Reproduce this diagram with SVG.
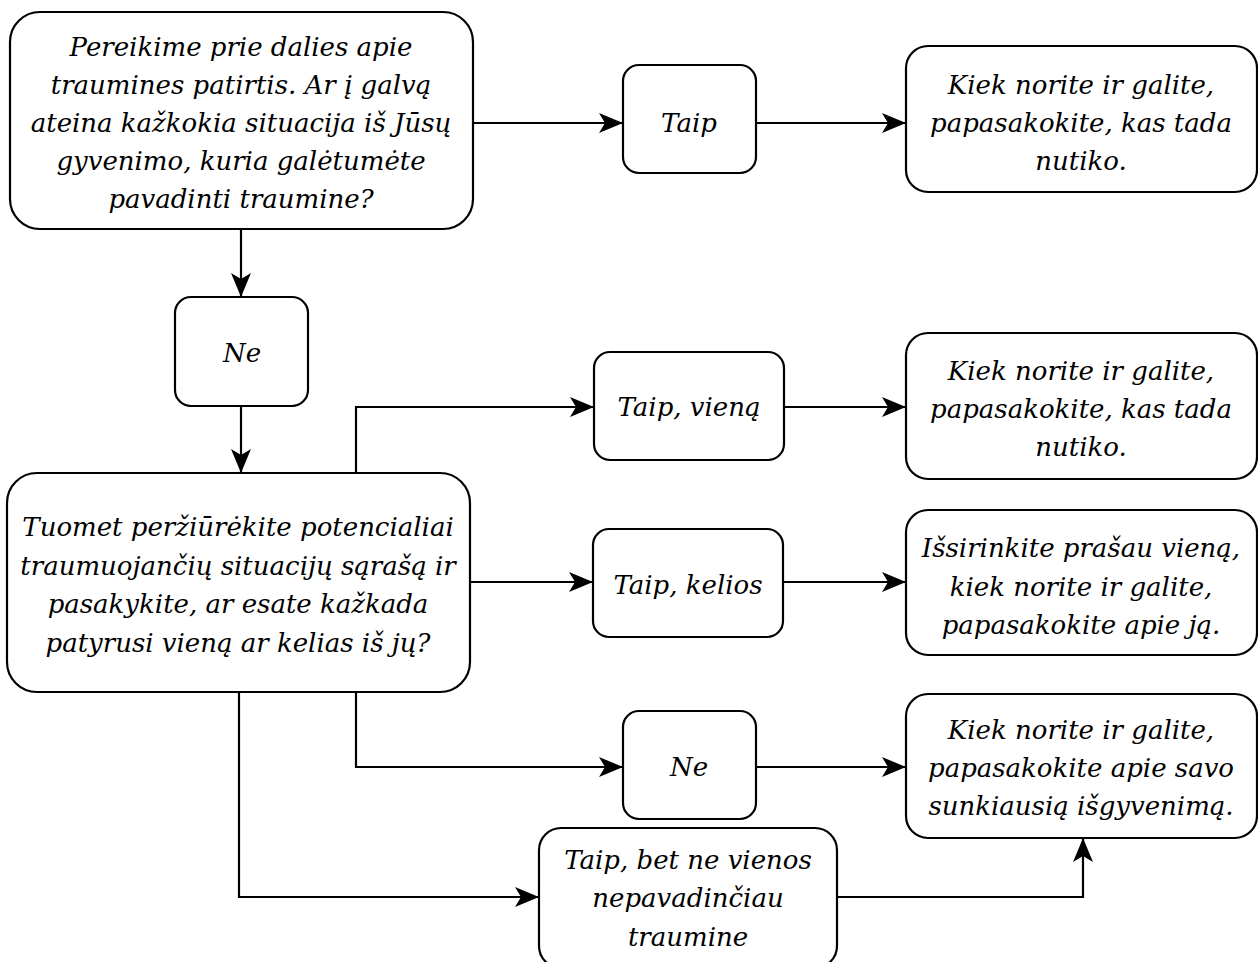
<svg xmlns="http://www.w3.org/2000/svg" width="1258" height="962" viewBox="0 0 1258 962">
<style>
.n{fill:#fff;stroke:#000;stroke-width:2.2}
.t{fill:#000;text-anchor:middle}
.c{fill:none;stroke:#000;stroke-width:2.2}
</style>
<defs>
<marker id="a" viewBox="0 0 24 20" refX="23" refY="10" markerWidth="24" markerHeight="20" markerUnits="userSpaceOnUse" orient="auto">
<path d="M0,0 L24,10 L0,20 L6,10 Z" fill="#000"/>
</marker>
</defs>
<rect width="1258" height="962" fill="#fff"/>
<g id="connectors">
<path class="c" d="M473,123 H622" marker-end="url(#a)"/>
<path class="c" d="M756,123 H905" marker-end="url(#a)"/>
<path class="c" d="M241,229 V296" marker-end="url(#a)"/>
<path class="c" d="M241,406 V472" marker-end="url(#a)"/>
<path class="c" d="M356,473 V407 H593" marker-end="url(#a)"/>
<path class="c" d="M784,407 H905" marker-end="url(#a)"/>
<path class="c" d="M470,582 H592" marker-end="url(#a)"/>
<path class="c" d="M783,582 H905" marker-end="url(#a)"/>
<path class="c" d="M356,692 V767 H622" marker-end="url(#a)"/>
<path class="c" d="M756,767 H905" marker-end="url(#a)"/>
<path class="c" d="M239,692 V897 H538" marker-end="url(#a)"/>
<path class="c" d="M837,897 H1083 V839" marker-end="url(#a)"/>
</g>
<g id="nodes" font-family="DejaVu Serif, serif" font-style="italic" font-size="26">
<g id="n1"><rect class="n" x="10" y="12" width="463" height="217" rx="30"/>
<text class="t"><tspan x="241" y="56">Pereikime prie dalies apie</tspan><tspan x="241" y="94">traumines patirtis. Ar į galvą</tspan><tspan x="241" y="132">ateina kažkokia situacija iš Jūsų</tspan><tspan x="241" y="170">gyvenimo, kuria galėtumėte</tspan><tspan x="241" y="208">pavadinti traumine?</tspan></text></g>
<g id="n2"><rect class="n" x="623" y="65" width="133" height="108" rx="16"/>
<text class="t" x="689" y="132">Taip</text></g>
<g id="n3"><rect class="n" x="906" y="46" width="351" height="146" rx="22"/>
<text class="t"><tspan x="1081" y="94">Kiek norite ir galite,</tspan><tspan x="1081" y="132">papasakokite, kas tada</tspan><tspan x="1081" y="170">nutiko.</tspan></text></g>
<g id="n4"><rect class="n" x="175" y="297" width="133" height="109" rx="16"/>
<text class="t" x="242" y="362">Ne</text></g>
<g id="n5"><rect class="n" x="7" y="473" width="463" height="219" rx="30"/>
<text class="t"><tspan x="238" y="536">Tuomet peržiūrėkite potencialiai</tspan><tspan x="238" y="575">traumuojančių situacijų sąrašą ir</tspan><tspan x="238" y="613">pasakykite, ar esate kažkada</tspan><tspan x="238" y="652">patyrusi vieną ar kelias iš jų?</tspan></text></g>
<g id="n6"><rect class="n" x="594" y="352" width="190" height="108" rx="16"/>
<text class="t" x="689" y="416">Taip, vieną</text></g>
<g id="n7"><rect class="n" x="906" y="333" width="351" height="146" rx="22"/>
<text class="t"><tspan x="1081" y="380">Kiek norite ir galite,</tspan><tspan x="1081" y="418">papasakokite, kas tada</tspan><tspan x="1081" y="456">nutiko.</tspan></text></g>
<g id="n8"><rect class="n" x="593" y="529" width="190" height="108" rx="16"/>
<text class="t" x="688" y="594">Taip, kelios</text></g>
<g id="n9"><rect class="n" x="906" y="510" width="351" height="145" rx="22"/>
<text class="t"><tspan x="1081" y="557">Išsirinkite prašau vieną,</tspan><tspan x="1081" y="596">kiek norite ir galite,</tspan><tspan x="1081" y="634">papasakokite apie ją.</tspan></text></g>
<g id="n10"><rect class="n" x="623" y="711" width="133" height="108" rx="16"/>
<text class="t" x="689" y="776">Ne</text></g>
<g id="n11"><rect class="n" x="906" y="694" width="351" height="144" rx="22"/>
<text class="t"><tspan x="1081" y="739">Kiek norite ir galite,</tspan><tspan x="1081" y="777">papasakokite apie savo</tspan><tspan x="1081" y="815">sunkiausią išgyvenimą.</tspan></text></g>
<g id="n12"><rect class="n" x="539" y="828" width="298" height="140" rx="22"/>
<text class="t"><tspan x="688" y="869">Taip, bet ne vienos</tspan><tspan x="688" y="907">nepavadinčiau</tspan><tspan x="688" y="946">traumine</tspan></text></g>
</g>
</svg>
